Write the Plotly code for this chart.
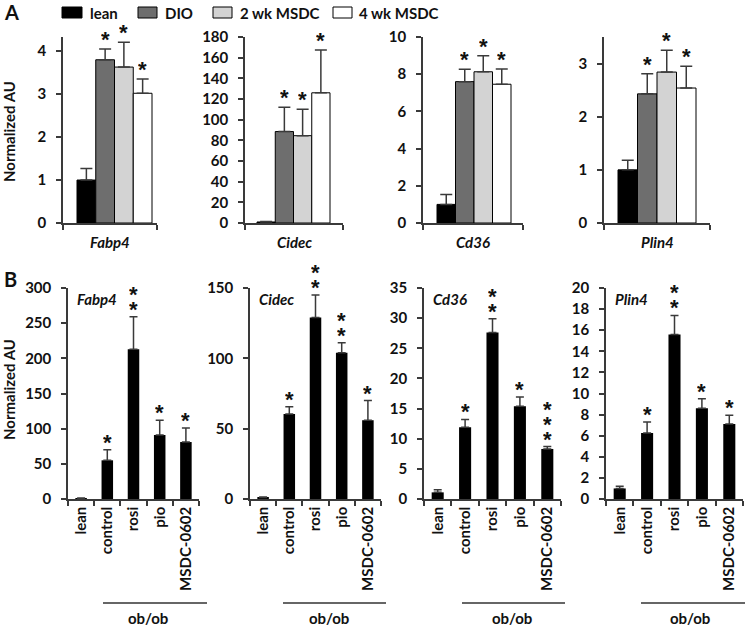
import plotly.graph_objects as go

W, H = 745, 626
FONT = "Lato"
AXC = "#3a3a3a"
TXT = "#111111"

# ---------------- data ----------------
genes = ["Fabp4", "Cidec", "Cd36", "Plin4"]

groups_a = ["lean", "DIO", "2 wk MSDC", "4 wk MSDC"]
colors_a = ["#000000", "#6e6e6e", "#d3d3d3", "#ffffff"]

a_fabp4 = [1.0, 3.80, 3.63, 3.02]
a_fabp4_err = [0.27, 0.25, 0.58, 0.33]
a_cidec = [1.0, 88.5, 84.5, 126.0]
a_cidec_err = [0.4, 23.5, 25.5, 41.5]
a_cd36 = [1.0, 7.60, 8.13, 7.46]
a_cd36_err = [0.53, 0.66, 0.86, 0.82]
a_plin4 = [1.0, 2.43, 2.84, 2.54]
a_plin4_err = [0.18, 0.38, 0.41, 0.41]
a_stars = [0, 1, 1, 1]
a_ymax = [4.33, 180, 10, 3.5]
a_dtick = [1, 20, 2, 1]

cats_b = ["lean", "control", "rosi", "pio", "MSDC-0602"]
b_fabp4 = [1.0, 55, 213, 91, 81]
b_fabp4_err = [0.4, 15, 46, 21, 20]
b_fabp4_stars = [0, 1, 2, 1, 1]
b_cidec = [1.0, 60.5, 129, 104, 56]
b_cidec_err = [0.4, 5, 16, 7, 14]
b_cidec_stars = [0, 1, 2, 2, 1]
b_cd36 = [1.1, 11.9, 27.6, 15.4, 8.3]
b_cd36_err = [0.45, 1.3, 2.3, 1.5, 0.4]
b_cd36_stars = [0, 1, 2, 1, 3]
b_plin4 = [1.0, 6.25, 15.6, 8.6, 7.1]
b_plin4_err = [0.2, 1.05, 1.8, 0.9, 0.85]
b_plin4_stars = [0, 1, 2, 1, 1]
b_ymax = [300, 150, 35, 20]
b_dtick = [50, 50, 5, 2]
group_label = "ob/ob"

a_vals = [a_fabp4, a_cidec, a_cd36, a_plin4]
a_errs = [a_fabp4_err, a_cidec_err, a_cd36_err, a_plin4_err]
b_vals = [b_fabp4, b_cidec, b_cd36, b_plin4]
b_errs = [b_fabp4_err, b_cidec_err, b_cd36_err, b_plin4_err]
b_stars = [b_fabp4_stars, b_cidec_stars, b_cd36_stars, b_plin4_stars]

# ---------------- layout geometry (pixels) ----------------
def px(x):
    return x / W

def py(y):
    return 1 - y / H

# A: axis start/end and bar-block start/end
a_geom = [(63, 157, 77, 152), (245, 343, 257, 330), (423, 523, 437, 511), (604, 710, 618, 696)]
a_top, a_bot = 37, 223
b_geom = [(68, 199), (250, 381), (424, 561), (606, 743)]
b_top, b_bot = 288, 499
oblines = [(103, 207, 148), (283, 386, 329), (462, 565, 512), (641, 745, 690)]

fig = go.Figure()
annotations = []
shapes = []
layout = {}

tickfont = dict(family=FONT, size=15, color=TXT, weight="bold")
star_font = dict(family="Liberation Sans", size=22, color=TXT, weight="bold")

def star(xa, ya, x, y, shift):
    return dict(xref=xa, yref=ya, x=x, y=y, yshift=shift, text="*", showarrow=False,
                xanchor="center", yanchor="middle", height=14, valign="middle", font=star_font)

for i in range(4):
    n = i + 1
    xa = "x" if n == 1 else f"x{n}"
    ya = "y" if n == 1 else f"y{n}"
    ax0, ax1, b0, b1 = a_geom[i]
    unit = (b1 - b0) / 4.0
    r0 = -0.5 - (b0 - ax0) / unit
    r1 = 3.5 + (ax1 - b1) / unit
    fig.add_trace(go.Bar(
        x=[0, 1, 2, 3], y=a_vals[i], width=1, xaxis=xa, yaxis=ya,
        marker=dict(color=colors_a, line=dict(color="#000000", width=1)),
        error_y=dict(type="data", array=a_errs[i], arrayminus=[0] * 4, symmetric=False,
                     color=AXC, thickness=1.5, width=6),
        showlegend=False, hoverinfo="skip"))
    layout["xaxis" + ("" if n == 1 else str(n))] = dict(
        domain=[px(ax0), px(ax1)], anchor=ya, range=[r0, r1],
        tickvals=[r0, r1], ticktext=["", ""], ticks="outside", ticklen=5,
        tickcolor=AXC, tickwidth=1.5, showline=True, linecolor=AXC, linewidth=1.5,
        showgrid=False, zeroline=False, automargin=False, fixedrange=True)
    layout["yaxis" + ("" if n == 1 else str(n))] = dict(
        domain=[py(a_bot), py(a_top)], anchor=xa, range=[0, a_ymax[i]], dtick=a_dtick[i],
        tick0=0, ticks="outside", ticklen=5, tickcolor=AXC, tickwidth=1.5,
        showline=True, linecolor=AXC, linewidth=1.5, showgrid=False, zeroline=False,
        tickfont=tickfont, ticklabelstandoff=7, automargin=False)
    annotations.append(dict(
        xref=f"{xa} domain", yref=f"{ya} domain", x=0.5, y=0, yshift=-19,
        text=f"<b><i>{genes[i]}</i></b>", showarrow=False, xanchor="center", yanchor="middle",
        font=dict(family=FONT, size=15, color=TXT)))
    for j in range(4):
        for k in range(a_stars[j]):
            annotations.append(star(xa, ya, j, a_vals[i][j] + a_errs[i][j], 10 + 15 * k))

for i in range(4):
    n = i + 5
    xa = f"x{n}"
    ya = f"y{n}"
    ax0, ax1 = b_geom[i]
    fig.add_trace(go.Bar(
        x=cats_b, y=b_vals[i], width=0.44, xaxis=xa, yaxis=ya,
        marker=dict(color="#000000", line=dict(color="#000000", width=0)),
        error_y=dict(type="data", array=b_errs[i], arrayminus=[0] * 5, symmetric=False,
                     color=AXC, thickness=1.5, width=4),
        showlegend=False, hoverinfo="skip"))
    layout[f"xaxis{n}"] = dict(
        domain=[px(ax0), px(ax1)], anchor=ya, type="category", range=[-0.5, 4.5],
        tickson="boundaries", ticks="outside", ticklen=5, tickcolor=AXC, tickwidth=1.5,
        showline=True, linecolor=AXC, linewidth=1.5, showgrid=False, zeroline=False,
        tickangle=-90, tickfont=tickfont, automargin=False)
    layout[f"yaxis{n}"] = dict(
        domain=[py(b_bot), py(b_top)], anchor=xa, range=[0, b_ymax[i]], dtick=b_dtick[i],
        tick0=0, ticks="outside", ticklen=5, tickcolor=AXC, tickwidth=1.5,
        showline=True, linecolor=AXC, linewidth=1.5, showgrid=False, zeroline=False,
        tickfont=tickfont, ticklabelstandoff=7, automargin=False)
    annotations.append(dict(
        xref=f"{xa} domain", yref=f"{ya} domain", x=0, xshift=7, y=1, yshift=-11,
        text=f"<b><i>{genes[i]}</i></b>", showarrow=False, xanchor="left", yanchor="middle",
        font=dict(family=FONT, size=15, color=TXT)))
    for j in range(5):
        for k in range(b_stars[i][j]):
            annotations.append(star(xa, ya, cats_b[j], b_vals[i][j] + b_errs[i][j], 8 + 15 * k))
    l0, l1, lc = oblines[i]
    shapes.append(dict(type="line", xref="paper", yref="paper", x0=px(l0), x1=px(l1),
                       y0=py(603), y1=py(603), line=dict(color="#333333", width=1.3)))
    annotations.append(dict(xref="paper", yref="paper", x=px(lc), y=py(618), text=f"<b>{group_label}</b>",
                            showarrow=False, xanchor="center", yanchor="middle",
                            font=dict(family=FONT, size=15, color=TXT)))

# y-axis titles and panel letters
for yc in (132, 390):
    annotations.append(dict(xref="paper", yref="paper", x=px(9), y=py(yc), text="<b>Normalized AU</b>",
                            textangle=-90, showarrow=False, xanchor="center", yanchor="middle",
                            font=dict(family=FONT, size=15, color=TXT)))
for lab, yc in (("A", 12), ("B", 279)):
    annotations.append(dict(xref="paper", yref="paper", x=px(2), y=py(yc), text=f"<b>{lab}</b>",
                            showarrow=False, xanchor="left", yanchor="middle",
                            font=dict(family=FONT, size=20, color=TXT)))

# legend (drawn)
leg_boxes = [(62, 82, 88), (138, 157, 163), (213, 232, 238), (333, 352, 357)]
for (bx0, bx1, tx), name, col in zip(leg_boxes, groups_a, colors_a):
    shapes.append(dict(type="rect", xref="paper", yref="paper", x0=px(bx0), x1=px(bx1),
                       y0=py(18), y1=py(7), fillcolor=col, line=dict(color="#000000", width=1)))
    annotations.append(dict(xref="paper", yref="paper", x=px(tx), y=py(13), text=f"<b>{name}</b>",
                            showarrow=False, xanchor="left", yanchor="middle",
                            font=dict(family=FONT, size=15, color=TXT)))

fig.update_layout(
    width=W, height=H, margin=dict(l=0, r=0, t=0, b=0),
    paper_bgcolor="white", plot_bgcolor="white", barmode="overlay",
    showlegend=False, annotations=annotations, shapes=shapes,
    font=dict(family=FONT, color=TXT), template="none", **layout)

fig.write_html("out.html", config={"displayModeBar": False},
               post_script="document.body.style.margin='0';document.body.style.overflow='hidden';")
